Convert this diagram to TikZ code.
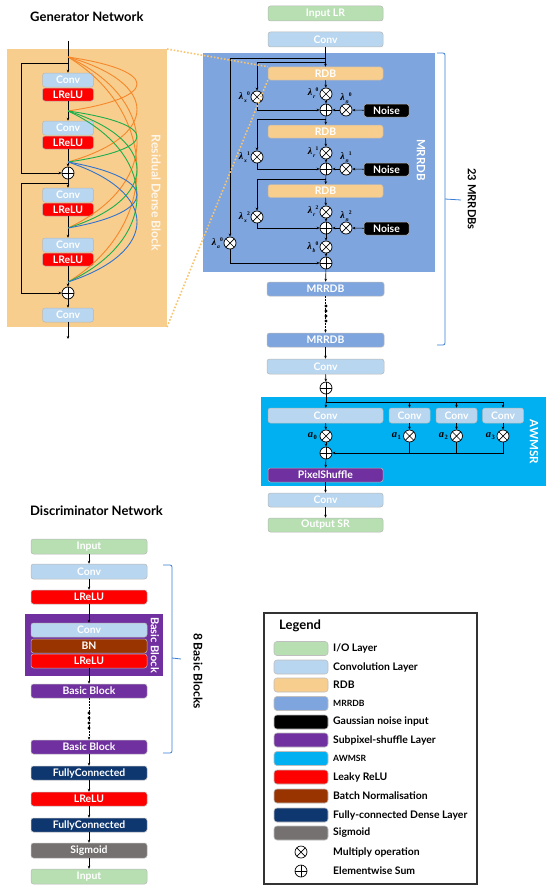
\documentclass[tikz,border=0pt]{standalone}
\usepackage{fontspec}
\setmainfont{Lato}
\newfontfamily\lamf{Liberation Serif}
\usetikzlibrary{arrows.meta,calc}
\newcommand{\lamlab}[3]{{\lamf\bfseries\itshape #1}\kern0.9pt\raisebox{-2.6pt}{\fontsize{5.6}{5}\selectfont\lamf\bfseries\itshape #2}\kern0.1pt\raisebox{4pt}{\fontsize{5.6}{5}\selectfont\lamf\bfseries #3}}
\newcommand{\alab}[1]{{\lamf\bfseries\itshape a}\kern0.4pt\raisebox{-2pt}{\fontsize{6.5}{6}\selectfont\lamf\bfseries #1}}
\definecolor{cio}{HTML}{B7DFB2}
\definecolor{cconv}{HTML}{B8D6EF}
\definecolor{crdb}{HTML}{F8CE8E}
\definecolor{cmrrdb}{HTML}{7EA5DE}
\definecolor{cpur}{HTML}{7030A0}
\definecolor{caw}{HTML}{00B0F0}
\definecolor{cred}{HTML}{FF0000}
\definecolor{cbn}{HTML}{993300}
\definecolor{cfc}{HTML}{0E3770}
\definecolor{csig}{HTML}{767171}
\definecolor{corg}{HTML}{F5872A}
\definecolor{cgrn}{HTML}{1BAE4B}
\definecolor{cblu}{HTML}{2F73CF}
\definecolor{cbrace}{HTML}{3A7FD5}
\definecolor{cdot}{HTML}{F9C46E}
\definecolor{crdbtxt}{HTML}{FEF6EA}
\begin{document}
\begin{tikzpicture}[x=1pt,y=-1pt,
  box/.style={rounded corners=2.5pt, draw=black!28, line width=0.5pt, inner sep=0pt, text=white, font=\bfseries\fontsize{10.4}{11}\selectfont, minimum height=14pt},
  W/.style={minimum width=#1},
  H/.style={minimum height=#1},
  arr/.style={-{Stealth[length=3pt,width=2.6pt]}, line width=0.6pt},
  ln/.style={line width=0.6pt},
  mul/.style={circle, draw, fill=white, line width=0.7pt, minimum size=12pt, inner sep=0pt,
    path picture={\draw[line width=0.7pt] (path picture bounding box.south west) -- (path picture bounding box.north east) (path picture bounding box.north west) -- (path picture bounding box.south east);}},
  sum/.style={circle, draw, fill=white, line width=0.7pt, minimum size=12pt, inner sep=0pt,
    path picture={\draw[line width=0.7pt] (path picture bounding box.north) -- (path picture bounding box.south) (path picture bounding box.west) -- (path picture bounding box.east);}},
  lam/.style={font=\fontsize{10}{10}\selectfont, inner sep=0pt},
  vlabel/.style={rotate=-90, font=\bfseries\fontsize{11}{11}\selectfont, inner sep=0pt},
  title/.style={font=\bfseries\fontsize{13}{13}\selectfont, inner sep=0pt},
  dense/.style={line width=0.9pt},
  brace/.style={draw=cbrace, line width=0.8pt, rounded corners=2pt},
  dotl/.style={draw=cdot, line width=1.6pt, dash pattern=on 1.6pt off 1.8pt},
  ldot/.style={circle, fill=black, inner sep=0pt, minimum size=3.4pt},
  legtxt/.style={anchor=west, font=\bfseries\fontsize{10.4}{11}\selectfont, inner sep=0pt},
  legsm/.style={anchor=west, font=\bfseries\fontsize{8.6}{9}\selectfont, inner sep=0pt},
  sw/.style={rounded corners=3pt, draw=black!25, line width=0.6pt, minimum width=54pt, minimum height=14pt, inner sep=0pt}
]
\useasboundingbox (0,0) rectangle (550,891);
\fill[white] (0,0) rectangle (550,891);

% ================= Generator: Residual Dense Block detail =================
\node[title, anchor=west] (gtitle) at (30,17) {Generator Network};
\fill[crdb] (7,49) rectangle (167,327);
\coordinate (gpNE) at (167,49);
\coordinate (gpSE) at (167,327);
\node[vlabel, text=crdbtxt, font=\bfseries\fontsize{12.2}{12}\selectfont] (rdblabel) at (156,193) {Residual Dense Block};

\node[box, fill=cconv, W=51pt] (gc1) at (68,80) {Conv};
\node[box, fill=cred, W=51pt, H=13pt] (gl1) at (68,94.5) {LReLU};
\node[box, fill=cconv, W=51pt] (gc2) at (68,128) {Conv};
\node[box, fill=cred, W=51pt, H=13pt] (gl2) at (68,142.5) {LReLU};
\node[sum] (gp1) at (68,173) {};
\node[box, fill=cconv, W=51pt] (gc3) at (68,195) {Conv};
\node[box, fill=cred, W=51pt, H=13pt] (gl3) at (68,209.5) {LReLU};
\node[box, fill=cconv, W=51pt] (gc4) at (68,245) {Conv};
\node[box, fill=cred, W=51pt, H=13pt] (gl4) at (68,259.5) {LReLU};
\node[sum] (gp2) at (68,293) {};
\node[box, fill=cconv, W=51pt] (gc5) at (68,315) {Conv};

\coordinate (gtop) at (68,41);
\coordinate (gR1) at (68,63);
\coordinate (gR2) at (68,183);
\coordinate (gbot) at (68,339);
\coordinate (gA) at (68,57);
\coordinate (gB) at (68,111);
\coordinate (gC) at (68,162);
\coordinate (gD) at (68,228);
\coordinate (gE) at (68,282);

\draw[arr] (gtop) -- (gc1);
\draw[arr] (gl1) -- (gc2);
\draw[arr] (gl2) -- (gp1);
\draw[arr] (gp1) -- (gc3);
\draw[arr] (gl3) -- (gc4);
\draw[arr] (gl4) -- (gp2);
\draw[arr] (gp2) -- (gc5);
\draw[arr] (gc5) -- (gbot);
\draw[arr] (gR1) -- ++(-47,0) |- (gp1);
\draw[arr] (gR2) -- ++(-47,0) |- (gp2);

% dense connections
\draw[dense, corg] (gA) .. controls +(92,13.5) and +(92,-13.5) .. (gB);
\draw[dense, corg] (gA) .. controls +(92,26) and +(92,-26) .. (gC);
\draw[dense, corg] (gA) .. controls +(92,43) and +(92,-43) .. (gD);
\draw[dense, corg] (gA) .. controls +(92,56) and +(92,-56) .. (gE);
\draw[dense, cgrn] (gB) .. controls +(92,13) and +(92,-13) .. (gC);
\draw[dense, cgrn] (gB) .. controls +(92,29) and +(92,-29) .. (gD);
\draw[dense, cgrn] (gB) .. controls +(92,43) and +(92,-43) .. (gE);
\draw[dense, cblu] (gC) .. controls +(92,16) and +(92,-16) .. (gD);
\draw[dense, cblu] (gC) .. controls +(92,30) and +(92,-30) .. (gE);

% ================= Generator main column =================
\node[box, fill=cio, W=115pt, H=15pt] (inlr) at (325.5,13.5) {Input LR};
\node[box, fill=cconv, W=115pt, H=15pt] (conv0) at (325.5,39.5) {Conv};

\fill[cmrrdb] (203,53) rectangle (435,272);
\node[vlabel, text=white, font=\bfseries\fontsize{11.5}{12}\selectfont] (mrrdblabel) at (421,160) {MRRDB};

\node[box, fill=crdb, W=115pt, H=13pt] (rdb1) at (325.5,73.5) {RDB};
\node[mul] (mr0) at (326,94) {};
\node[sum] (p0) at (326,110) {};
\node[mul] (mn0) at (346,110) {};
\node[box, fill=black, W=45pt, H=13pt] (noise0) at (386.5,110.5) {Noise};
\node[mul] (mx0) at (257,97) {};

\node[box, fill=crdb, W=115pt, H=13pt] (rdb2) at (325.5,131.5) {RDB};
\node[mul] (mr1) at (326,153) {};
\node[sum] (p1) at (326,169) {};
\node[mul] (mn1) at (346,169) {};
\node[box, fill=black, W=45pt, H=13pt] (noise1) at (386.5,169.5) {Noise};
\node[mul] (mx1) at (257,157) {};

\node[box, fill=crdb, W=115pt, H=13pt] (rdb3) at (325.5,191) {RDB};
\node[mul] (mr2) at (326,212) {};
\node[sum] (p2) at (326,228) {};
\node[mul] (mn2) at (346,228) {};
\node[box, fill=black, W=45pt, H=13pt] (noise2) at (386.5,228.5) {Noise};
\node[mul] (mx2) at (257,217) {};

\node[mul] (mb0) at (326,247) {};
\node[sum] (pf) at (326,263) {};
\node[mul] (ma0) at (230,243) {};

% lambda labels
\node[lam, anchor=east] (llx0) at (250,97) {\lamlab{λ}{x}{0}};
\node[lam, anchor=east] (llr0) at (318.5,93) {\lamlab{λ}{r}{0}};
\node[lam, anchor=south] (lln0) at (346,103.5) {\lamlab{λ}{n}{0}};
\node[lam, anchor=east] (llx1) at (250,157) {\lamlab{λ}{x}{1}};
\node[lam, anchor=east] (llr1) at (318.5,152) {\lamlab{λ}{r}{1}};
\node[lam, anchor=south] (lln1) at (346,162.5) {\lamlab{λ}{n}{1}};
\node[lam, anchor=east] (llx2) at (250,217) {\lamlab{λ}{x}{2}};
\node[lam, anchor=east] (llr2) at (318.5,211) {\lamlab{λ}{r}{2}};
\node[lam, anchor=south] (lln2) at (346,221.5) {\lamlab{λ}{n}{2}};
\node[lam, anchor=east] (lla0) at (223,243) {\lamlab{λ}{a}{0}};
\node[lam, anchor=east] (llb0) at (318.5,247) {\lamlab{λ}{b}{0}};

% wires
\coordinate (j0) at (326,58);
\coordinate (j1) at (326,62);
\coordinate (j2) at (326,119);
\coordinate (j3) at (326,179);
\draw[arr] (conv0) -- (rdb1);
\draw[arr] (j0) -- (230,58) -- (ma0);
\draw[arr] (j1) -- (257,62) -- (mx0);
\draw[arr] (mx0) |- (p0);
\draw[arr] (rdb1) -- (mr0);
\draw[arr] (mr0) -- (p0);
\draw[arr] (noise0) -- (mn0);
\draw[arr] (mn0) -- (p0);
\draw[arr] (p0) -- (rdb2);
\draw[arr] (j2) -- (257,119) -- (mx1);
\draw[arr] (mx1) |- (p1);
\draw[arr] (rdb2) -- (mr1);
\draw[arr] (mr1) -- (p1);
\draw[arr] (noise1) -- (mn1);
\draw[arr] (mn1) -- (p1);
\draw[arr] (p1) -- (rdb3);
\draw[arr] (j3) -- (257,179) -- (mx2);
\draw[arr] (mx2) |- (p2);
\draw[arr] (rdb3) -- (mr2);
\draw[arr] (mr2) -- (p2);
\draw[arr] (noise2) -- (mn2);
\draw[arr] (mn2) -- (p2);
\draw[arr] (p2) -- (mb0);
\draw[arr] (mb0) -- (pf);
\draw[arr] (ma0) |- (pf);

% dotted zoom lines
\draw[dotl] (gpNE) -- (rdb1.north west);
\draw[dotl] (gpSE) -- (rdb1.south west);

% after MRRDB panel
\node[box, fill=cmrrdb, W=117pt] (mrrdb2) at (325.5,289) {MRRDB};
\node[box, fill=cmrrdb, W=117pt] (mrrdb3) at (325.5,340) {MRRDB};
\node[box, fill=cconv, W=117pt, H=15pt] (conv1) at (325.5,366.5) {Conv};
\node[sum] (pg) at (326,388) {};
\draw[arr] (pf) -- (mrrdb2);
\draw[arr, dash pattern=on 2pt off 1pt] (mrrdb2) -- (mrrdb3);
\node[ldot] (gd1) at (326,306) {};
\node[ldot] (gd2) at (326,311) {};
\node[ldot] (gd3) at (326,316) {};
\node[ldot] (gd4) at (326,321) {};
\draw[arr] (mrrdb3) -- (conv1);
\draw[arr] (conv1) -- (pg);

% 23 MRRDBs brace
\coordinate (b1a) at (437,53);
\coordinate (b1b) at (437,345);
\coordinate (b1t) at (461,200);
\draw[brace] (b1a) -- (445,53) -- (445,345) -- (b1b);
\draw[brace] (445,199) -- (b1t);
\node[vlabel, text=black, font=\bfseries\fontsize{11.2}{11}\selectfont] (mrrdbs) at (472,199) {23 MRRDBs};

% ================= AWMSR =================
\fill[caw] (261,397) rectangle (546,486);
\node[vlabel, text=white, font=\bfseries\fontsize{11.5}{11}\selectfont] (awlabel) at (534,442) {AWMSR};
\node[box, fill=cconv, W=115pt, H=15pt] (awc0) at (325.5,415.5) {Conv};
\node[box, fill=cconv, W=41pt, H=15pt] (awc1) at (409.5,415.5) {Conv};
\node[box, fill=cconv, W=41pt, H=15pt] (awc2) at (456.5,415.5) {Conv};
\node[box, fill=cconv, W=41pt, H=15pt] (awc3) at (503,415.5) {Conv};
\node[mul] (am0) at (326,436) {};
\node[mul] (am1) at (409.5,436) {};
\node[mul] (am2) at (456.5,436) {};
\node[mul] (am3) at (503,436) {};
\node[lam, font=\fontsize{10.5}{10}\selectfont, anchor=east] (la0) at (317,436) {\alab{0}};
\node[lam, font=\fontsize{10.5}{10}\selectfont, anchor=east] (la1) at (401,436) {\alab{1}};
\node[lam, font=\fontsize{10.5}{10}\selectfont, anchor=east] (la2) at (448,436) {\alab{2}};
\node[lam, font=\fontsize{10.5}{10}\selectfont, anchor=east] (la3) at (495,436) {\alab{3}};
\node[sum] (ap) at (326,453) {};
\coordinate (aj) at (326,402);
\draw[ln] (pg) -- (aj) -- (503,402);
\draw[arr] (aj) -- (awc0);
\draw[arr] (409.5,402) -- (awc1);
\draw[arr] (456.5,402) -- (awc2);
\draw[arr] (503,402) -- (awc3);
\draw[arr] (awc0) -- (am0);
\draw[arr] (awc1) -- (am1);
\draw[arr] (awc2) -- (am2);
\draw[arr] (awc3) -- (am3);
\draw[arr] (am0) -- (ap);
\draw[ln] (am1) -- (409.5,453);
\draw[ln] (am2) -- (456.5,453);
\draw[arr] (am3) |- (ap);
\node[box, fill=cpur, W=115pt] (ps) at (325.5,475) {PixelShuffle};
\node[box, fill=cconv, W=115pt] (conv2) at (325.5,500) {Conv};
\node[box, fill=cio, W=115pt] (outsr) at (325.5,525) {Output SR};
\draw[arr] (ap) -- (ps);
\draw[arr] (ps) -- (conv2);
\draw[arr] (conv2) -- (outsr);

% ================= Discriminator =================
\node[title, anchor=west] (dtitle) at (30,511) {Discriminator Network};
\node[box, fill=cio, W=116pt, H=15pt] (din) at (89,546.5) {Input};
\node[box, fill=cconv, W=116pt, H=15pt] (dc) at (89,571.5) {Conv};
\node[box, fill=cred, W=116pt] (dl) at (89,597) {LReLU};
\fill[cpur] (25,614) rectangle (163,676);
\node[vlabel, text=white, font=\bfseries\fontsize{11}{11}\selectfont] (bblabel) at (155,645) {Basic Block};
\node[box, fill=cconv, W=116pt] (dbc) at (89,630) {Conv};
\node[box, fill=cbn, W=116pt] (dbn) at (89,646) {BN};
\node[box, fill=cred, W=116pt] (dbl) at (89,661) {LReLU};
\node[box, fill=cpur, W=116pt] (dbb1) at (89,691) {Basic Block};
\node[ldot] (dd1) at (89,713) {};
\node[ldot] (dd2) at (89,718) {};
\node[ldot] (dd3) at (89,723) {};
\node[ldot] (dd4) at (89,728) {};
\node[box, fill=cpur, W=116pt] (dbb2) at (89,747) {Basic Block};
\node[box, fill=cfc, W=116pt] (dfc1) at (89,773) {FullyConnected};
\node[box, fill=cred, W=116pt] (dl2) at (89,799) {LReLU};
\node[box, fill=cfc, W=116pt] (dfc2) at (89,825) {FullyConnected};
\node[box, fill=csig, W=116pt, H=15pt] (dsig) at (89,850.5) {Sigmoid};
\node[box, fill=cio, W=116pt, H=15pt] (dout) at (89,876.5) {Input};
\draw[arr] (din) -- (dc);
\draw[arr] (dc) -- (dl);
\draw[arr] (dl) -- (dbc);
\draw[arr] (dbl) -- (dbb1);
\draw[arr, dash pattern=on 2pt off 1pt] (dbb1) -- (dbb2);
\draw[arr] (dbb2) -- (dfc1);
\draw[arr] (dfc1) -- (dl2);
\draw[arr] (dl2) -- (dfc2);
\draw[arr] (dfc2) -- (dsig);
\draw[arr] (dsig) -- (dout);

% 8 Basic Blocks brace
\coordinate (b2a) at (163,565);
\coordinate (b2b) at (163,753);
\coordinate (b2t) at (181,659);
\draw[brace] (b2a) -- (172,565) -- (172,753) -- (b2b);
\draw[brace] (172,658) -- (b2t);
\node[vlabel, text=black, font=\bfseries\fontsize{12}{12}\selectfont] (bbs) at (198,671) {8 Basic Blocks};

% ================= Legend =================
\draw[line width=1.2pt, draw=black!80] (264,613) rectangle (477,884);
\node[title, anchor=west] (legt) at (279,626) {Legend};
\node[sw, fill=cio] (s1) at (301,648.5) {};
\node[sw, fill=cconv] (s2) at (301,667) {};
\node[sw, fill=crdb] (s3) at (301,685) {};
\node[sw, fill=cmrrdb] (s4) at (301,703.5) {};
\node[sw, fill=black] (s5) at (301,722) {};
\node[sw, fill=cpur] (s6) at (301,740) {};
\node[sw, fill=caw] (s7) at (301,758.5) {};
\node[sw, fill=cred] (s8) at (301,777) {};
\node[sw, fill=cbn] (s9) at (301,796) {};
\node[sw, fill=cfc] (s10) at (301,815) {};
\node[sw, fill=csig] (s11) at (301,833) {};
\node[mul] (s12) at (301,852) {};
\node[sum] (s13) at (301,871) {};
\node[legtxt] (t1) at (333,648.5) {I/O Layer};
\node[legtxt] (t2) at (333,667) {Convolution Layer};
\node[legtxt] (t3) at (333,685) {RDB};
\node[legsm] (t4) at (333,703.5) {MRRDB};
\node[legtxt] (t5) at (333,722) {Gaussian noise input};
\node[legtxt] (t6) at (333,740) {Subpixel-shuffle Layer};
\node[legsm] (t7) at (333,758.5) {AWMSR};
\node[legtxt] (t8) at (333,777) {Leaky ReLU};
\node[legtxt] (t9) at (333,796) {Batch Normalisation};
\node[legtxt] (t10) at (333,815) {Fully-connected Dense Layer};
\node[legtxt] (t11) at (333,833) {Sigmoid};
\node[legtxt] (t12) at (333,852) {Multiply operation};
\node[legtxt] (t13) at (333,871) {Elementwise Sum};
\end{tikzpicture}
\end{document}
